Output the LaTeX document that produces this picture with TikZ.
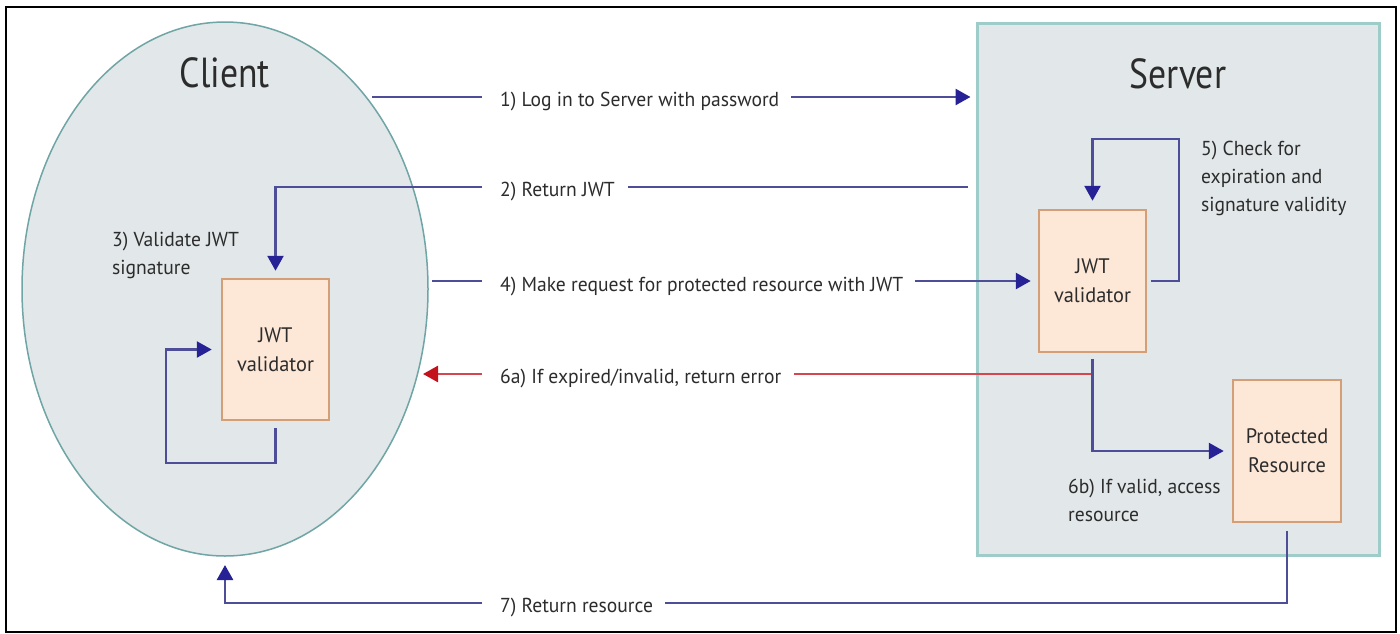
\documentclass[tikz,border=0pt]{standalone}
\usepackage{fontspec}
\setmainfont{PT Sans}[FakeStretch=0.97]
\newfontfamily\titlefont{PT Sans}[FakeStretch=0.85]
\usetikzlibrary{arrows.meta,shapes.geometric}
\definecolor{flow}{RGB}{78,78,152}
\definecolor{flowhead}{RGB}{38,34,150}
\definecolor{err}{RGB}{214,70,78}
\definecolor{errhead}{RGB}{196,18,28}
\definecolor{zonefill}{RGB}{226,231,233}
\definecolor{ellline}{RGB}{112,165,165}
\definecolor{srvline}{RGB}{158,204,200}
\definecolor{boxfill}{RGB}{253,231,215}
\definecolor{boxline}{RGB}{212,158,118}
\definecolor{ink}{RGB}{44,44,44}
\begin{document}
\begin{tikzpicture}[x=1pt,y=-1pt,
  flowline/.style={draw=flow, line width=2.6pt},
  flowarrow/.style={flowline, -{Triangle[length=15pt,width=16pt,color=flowhead]}},
  errline/.style={draw=err, line width=2.6pt},
  errarrow/.style={errline, -{Triangle[length=15pt,width=16pt,color=errhead]}},
  labeltext/.style={font=\fontsize{20.2}{28}\selectfont, text=ink, inner sep=0pt},
  titletext/.style={font=\titlefont\fontsize{42}{50}\selectfont, text=ink, inner sep=0pt},
  stepbox/.style={draw=boxline, fill=boxfill, line width=2.5pt, align=center,
    font=\fontsize{21}{29}\selectfont, text=ink, inner sep=0pt},
]
\useasboundingbox (0,0) rectangle (1400,633);
\fill[white] (0,0) rectangle (1400,633);
\draw[line width=2.5pt] (6,7) rectangle (1396,632);

% zones
\node[ellipse, draw=ellline, fill=zonefill, line width=1.5pt, inner sep=0pt,
      minimum width=406pt, minimum height=534pt] (client) at (225,289) {};
\node[draw=srvline, fill=zonefill, line width=3pt, inner sep=0pt,
      minimum width=402pt, minimum height=532pt] (server) at (1178,289) {};
\node[titletext, anchor=base] (clienttitle) at (225,87) {Client};
\node[titletext, anchor=base] (servertitle) at (1178,88) {Server};

% components
\node[stepbox, minimum width=107pt, minimum height=141pt] (cjwt) at (275.5,349.5) {JWT\\validator};
\node[stepbox, minimum width=107pt, minimum height=142pt] (sjwt) at (1092.5,281) {JWT\\validator};
\node[stepbox, minimum width=108pt, minimum height=142pt] (pres) at (1287,451) {Protected\\Resource};

% step labels
\node[labeltext, anchor=base west] (l1) at (500,106) {1) Log in to Server with password};
\node[labeltext, anchor=base west] (l2) at (500,196) {2) Return JWT};
\node[labeltext, anchor=base west] (l4) at (500,291) {4) Make request for protected resource with JWT};
\node[labeltext, anchor=base west] (l6a) at (500,383) {6a) If expired/invalid, return error};
\node[labeltext, anchor=base west] (l7) at (500,612) {7) Return resource};
\node[labeltext, anchor=north west, align=left] (l3) at (112,232) {3) Validate JWT\\signature};
\node[labeltext, anchor=north west, align=left] (l5) at (1201,141) {5) Check for\\expiration and\\signature validity};
\node[labeltext, anchor=north west, align=left] (l6b) at (1068,479) {6b) If valid, access\\resource};

% free ends
\coordinate (c1) at (372,97);
\coordinate (s2) at (968,187);
\coordinate (c4) at (432,281);
\coordinate (c6a) at (423,374);
\coordinate (c7) at (225,565);
\coordinate (low7) at (1287,603);
\coordinate (loop3) at (166,463);
\coordinate (loop5) at (1179,139);

% 1) login
\draw[flowline] (c1) -- ([xshift=-18pt]l1.west |- c1);
\draw[flowarrow] ([xshift=12pt]l1.east |- c1) -- ([xshift=-5pt]server.west |- c1);
% 2) return JWT
\draw[flowline] (s2) -- ([xshift=13pt]l2.east |- s2);
\draw[flowarrow] ([xshift=-18pt]l2.west |- s2) -| ([yshift=7pt]cjwt.north);
% 3) client-side validation loop
\draw[flowarrow] ([yshift=-7pt]cjwt.south) |- (loop3) |- ([xshift=-9pt]cjwt.west);
% 4) request with JWT
\draw[flowline] (c4) -- ([xshift=-18pt]l4.west |- c4);
\draw[flowarrow] ([xshift=12pt]l4.east |- c4) -- ([xshift=-7pt]sjwt.west |- c4);
% 5) server-side check loop
\draw[flowarrow] ([xshift=4pt]sjwt.east) -| (loop5) -| ([yshift=8pt]sjwt.north);
% 6a) error back to client
\draw[errline] (sjwt.south |- c6a) -- ([xshift=13pt]l6a.east |- c6a);
\draw[errarrow] ([xshift=-18pt]l6a.west |- c6a) -- (c6a);
% 6b) access resource
\draw[flowarrow] ([yshift=-6pt]sjwt.south) |- ([xshift=-8pt]pres.west);
% 7) return resource
\draw[flowline] ([yshift=-8pt]pres.south) |- ([xshift=12pt]l7.east |- low7);
\draw[flowarrow] ([xshift=-18pt]l7.west |- low7) -| (c7);
\end{tikzpicture}
\end{document}
